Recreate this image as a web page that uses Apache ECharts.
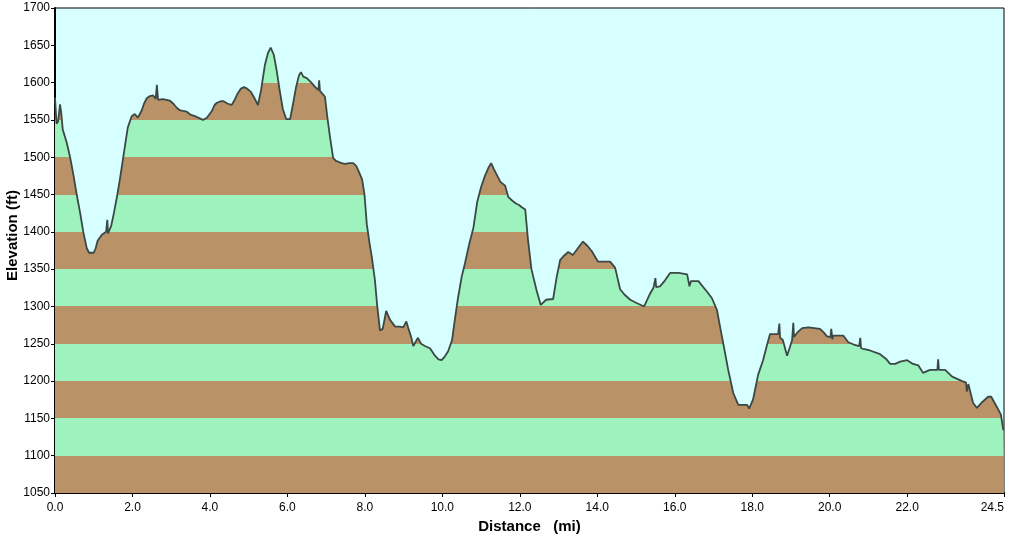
<!DOCTYPE html>
<html>
<head>
<meta charset="utf-8">
<script src="https://cdn.jsdelivr.net/npm/echarts@6/dist/echarts.min.js"></script>
<style>
    html, body { margin: 0; padding: 0; background: #fff; }
    #profile { width: 1009px; height: 536px; }
</style>
</head>
<body>
<div id="profile"></div>
<script>
    // distance along the route (mi)
    var dist = [
        0.00, 0.04, 0.08, 0.13, 0.16, 0.20, 0.30, 0.39, 0.48, 0.56, 0.65, 0.73, 0.82, 0.88, 1.00, 1.05, 1.10, 1.21, 1.32, 1.35,
        1.37, 1.45, 1.52, 1.60, 1.68, 1.76, 1.82, 1.88, 1.98, 2.06, 2.14, 2.24, 2.30, 2.37, 2.45, 2.53, 2.60, 2.63, 2.66, 2.78,
        2.88, 2.96, 3.05, 3.15, 3.22, 3.30, 3.40, 3.50, 3.66, 3.74, 3.82, 3.92, 4.05, 4.12, 4.18, 4.28, 4.35, 4.45, 4.56, 4.63,
        4.70, 4.80, 4.88, 4.96, 5.05, 5.14, 5.24, 5.32, 5.42, 5.50, 5.57, 5.65, 5.72, 5.80, 5.88, 5.97, 6.07, 6.14, 6.22, 6.30,
        6.35, 6.41, 6.50, 6.60, 6.72, 6.80, 6.82, 6.84, 6.97, 7.03, 7.10, 7.18, 7.25, 7.31, 7.40, 7.49, 7.60, 7.70, 7.78, 7.85,
        7.93, 7.99, 8.05, 8.12, 8.18, 8.26, 8.32, 8.39, 8.46, 8.55, 8.65, 8.78, 8.90, 8.99, 9.07, 9.12, 9.19, 9.25, 9.37, 9.45,
        9.55, 9.68, 9.81, 9.90, 9.98, 10.05, 10.15, 10.25, 10.33, 10.40, 10.50, 10.58, 10.70, 10.80, 10.90, 11.00, 11.10, 11.20, 11.26, 11.33,
        11.42, 11.50, 11.62, 11.70, 11.80, 11.90, 11.98, 12.05, 12.14, 12.21, 12.30, 12.43, 12.54, 12.68, 12.86, 12.95, 13.04, 13.12, 13.25, 13.37,
        13.50, 13.63, 13.75, 13.86, 14.02, 14.20, 14.33, 14.46, 14.59, 14.70, 14.85, 15.00, 15.21, 15.35, 15.45, 15.50, 15.52, 15.62, 15.75, 15.88,
        16.10, 16.32, 16.38, 16.42, 16.61, 16.75, 16.83, 16.96, 17.09, 17.18, 17.25, 17.38, 17.51, 17.64, 17.75, 17.87, 17.92, 18.02, 18.10, 18.15,
        18.28, 18.38, 18.46, 18.67, 18.70, 18.72, 18.79, 18.90, 18.97, 19.03, 19.06, 19.08, 19.18, 19.29, 19.45, 19.60, 19.75, 19.85, 19.93, 20.02,
        20.04, 20.07, 20.09, 20.35, 20.48, 20.62, 20.76, 20.79, 20.81, 20.87, 21.04, 21.30, 21.45, 21.56, 21.69, 21.82, 22.00, 22.15, 22.29, 22.41,
        22.59, 22.78, 22.80, 22.82, 22.98, 23.16, 23.42, 23.52, 23.54, 23.58, 23.70, 23.80, 23.94, 24.09, 24.17, 24.32, 24.42, 24.48, 24.50
    ]
    // elevation (ft)
    var elev = [
        1580, 1545, 1548, 1571, 1560, 1537, 1520, 1500, 1475, 1450, 1425, 1400, 1378, 1372, 1372, 1378, 1388, 1396, 1400, 1416,
        1398, 1408, 1425, 1447, 1472, 1499, 1520, 1540, 1555, 1558, 1553, 1563, 1572, 1579, 1582, 1583, 1578, 1597, 1577, 1578,
        1577, 1576, 1572, 1566, 1563, 1562, 1561, 1557, 1554, 1552, 1550, 1553, 1562, 1570, 1573, 1575, 1575, 1572, 1570, 1576,
        1584, 1592, 1594, 1592, 1588, 1580, 1570, 1590, 1624, 1640, 1647, 1637, 1617, 1590, 1565, 1551, 1551, 1570, 1593, 1610,
        1614, 1608, 1606, 1601, 1594, 1590, 1603, 1589, 1581, 1554, 1527, 1499, 1495, 1494, 1492, 1491, 1492, 1492, 1488, 1480,
        1470, 1450, 1410, 1385, 1366, 1335, 1300, 1268, 1270, 1294, 1282, 1273, 1273, 1272, 1280, 1271, 1260, 1247, 1258, 1250,
        1247, 1244, 1234, 1229, 1228, 1232, 1240, 1255, 1285, 1310, 1340, 1357, 1385, 1405, 1440, 1460, 1475, 1487, 1492, 1484,
        1475, 1467, 1462, 1447, 1442, 1438, 1436, 1433, 1430, 1390, 1350, 1322, 1302, 1309, 1310, 1339, 1362, 1367, 1373, 1369,
        1378, 1387, 1381, 1374, 1360, 1360, 1360, 1352, 1323, 1316, 1309, 1305, 1300, 1316, 1325, 1338, 1326, 1327, 1335, 1345,
        1345, 1343, 1327, 1334, 1334, 1325, 1320, 1311, 1295, 1270, 1251, 1215, 1184, 1168, 1168, 1168, 1163, 1175, 1195, 1208,
        1228, 1248, 1263, 1263, 1277, 1258, 1255, 1234, 1245, 1255, 1278, 1259, 1266, 1271, 1272, 1271, 1270, 1265, 1260, 1259,
        1270, 1256, 1261, 1261, 1252, 1249, 1247, 1258, 1244, 1243, 1241, 1236, 1230, 1223, 1223, 1226, 1228, 1223, 1221, 1211,
        1215, 1215, 1229, 1215, 1215, 1206, 1200, 1198, 1186, 1196, 1171, 1164, 1172, 1179, 1179, 1165, 1155, 1135, 1135
    ]
    var xTicks = [0, 2, 4, 6, 8, 10, 12, 14, 16, 18, 20, 22, 24.5]
    var yTicks = [1050, 1100, 1150, 1200, 1250, 1300, 1350, 1400, 1450, 1500, 1550, 1600, 1650, 1700]

    var brown = '#B99268'
    var green = '#9EF2BE'

    function setChart () {
        let points = []
        for (let i = 0; i < dist.length; i++) {
            points.push([dist[i], elev[i]])
        }
        // alternating 50 ft bands, brown first from the bottom
        let pieces = []
        for (let i = 0; i < yTicks.length - 1; i++) {
            pieces.push({
                gte: yTicks[i],
                lt: i == yTicks.length - 2 ? yTicks[i + 1] + 1 : yTicks[i + 1],
                color: i % 2 == 0 ? brown : green
            })
        }
        let font = 'Liberation Sans'
        let option = {
            animation: false,
            grid: {
                left: 55,
                right: 5,
                top: 8,
                bottom: 43,
                outerBoundsMode: 'none',
                containLabel: false,
                show: true,
                backgroundColor: '#D8FFFF',
                borderColor: '#000',
                borderWidth: 1
            },
            visualMap: {
                type: 'piecewise',
                show: false,
                dimension: 1,
                seriesIndex: 0,
                pieces: pieces
            },
            xAxis: {
                type: 'value',
                min: 0,
                max: 24.5,
                name: 'Distance   (mi)',
                nameLocation: 'middle',
                nameGap: 26,
                nameMoveOverlap: false,
                nameTextStyle: { color: '#000', fontFamily: font, fontSize: 15, fontWeight: 'bold' },
                axisLine: { lineStyle: { color: '#000', width: 2 } },
                axisTick: { show: true, length: 4, customValues: xTicks, lineStyle: { color: '#000' } },
                axisLabel: {
                    customValues: xTicks,
                    color: '#000',
                    fontFamily: font,
                    fontSize: 12,
                    margin: 9,
                    alignMaxLabel: 'right',
                    formatter: function (v) { return v.toFixed(1) }
                },
                splitLine: { show: false }
            },
            yAxis: {
                type: 'value',
                min: 1050,
                max: 1700,
                interval: 50,
                name: 'Elevation (ft)',
                nameLocation: 'middle',
                nameGap: 35,
                nameMoveOverlap: false,
                nameTextStyle: { color: '#000', fontFamily: font, fontSize: 15, fontWeight: 'bold', padding: [0, 0, 0, 30] },
                axisLine: { lineStyle: { color: '#000', width: 2 } },
                axisTick: { show: true, length: 4, lineStyle: { color: '#000' } },
                axisLabel: {
                    color: '#000',
                    fontFamily: font,
                    fontSize: 12,
                    margin: 5,
                    formatter: function (v) { return String(v) }
                },
                splitLine: { show: false }
            },
            series: [
                {
                    type: 'line',
                    data: points,
                    symbol: 'none',
                    sampling: false,
                    lineStyle: { color: '#3A4846', width: 1.8 },
                    areaStyle: { opacity: 1, origin: 'start' }
                }
            ]
        }
        let myChart = echarts.init(document.getElementById('profile'))
        myChart.setOption(option)
    }
    setChart()
</script>
</body>
</html>
